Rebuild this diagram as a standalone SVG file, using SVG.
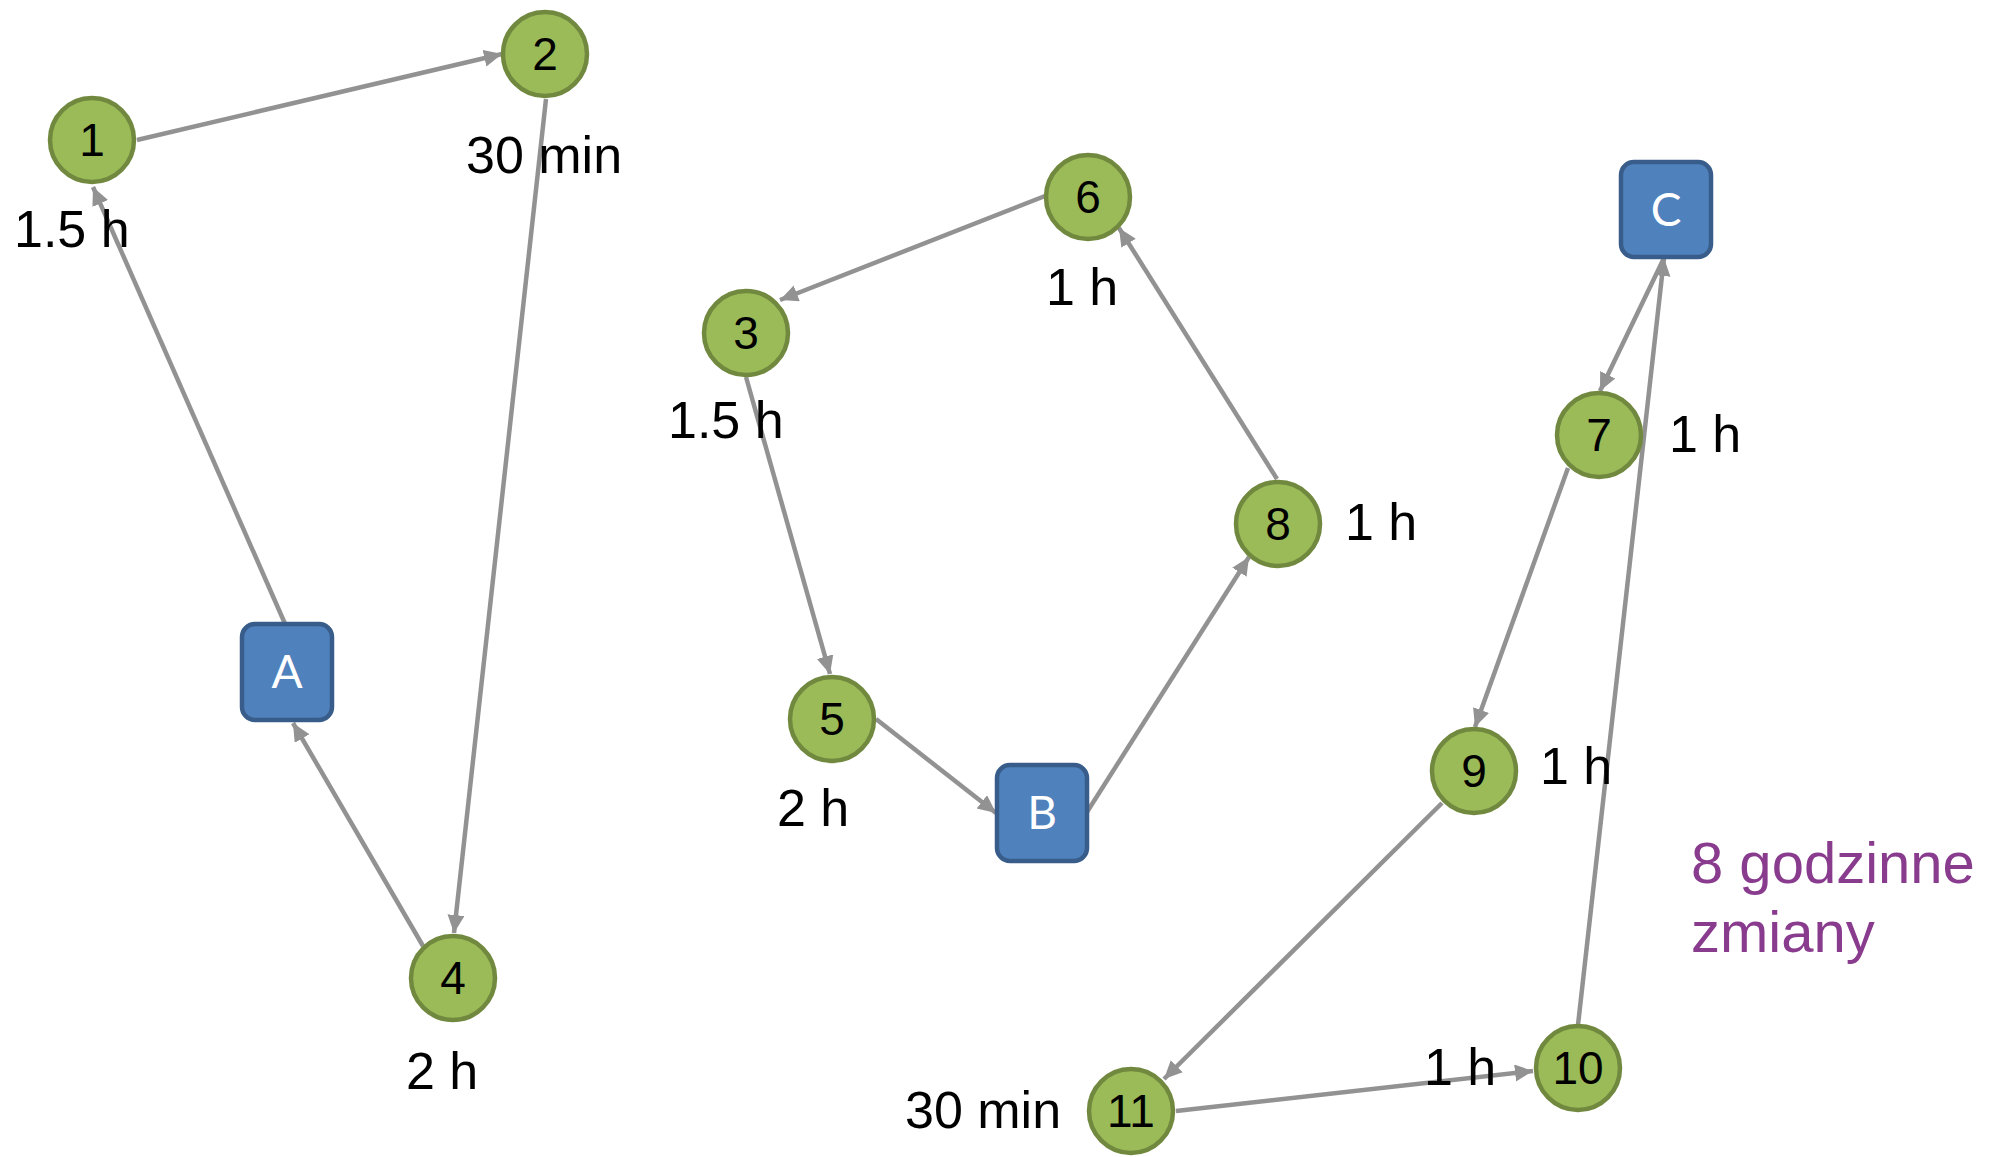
<svg xmlns="http://www.w3.org/2000/svg" width="2000" height="1157" viewBox="0 0 2000 1157">
<defs>
<marker id="arr" markerUnits="userSpaceOnUse" markerWidth="20" markerHeight="18" refX="18" refY="8.5" orient="auto">
<path d="M0,0 L18,8.5 L0,17 z" fill="#929292"/>
</marker>
<style>
.edge{stroke:#929292;stroke-width:4.5;fill:none;marker-end:url(#arr)}
.n{fill:#9BBB59;stroke:#71893F;stroke-width:4.5}
.b{fill:#4F81BD;stroke:#385D8A;stroke-width:4.5}
.nt{font-family:"Liberation Sans",Arial,sans-serif;font-size:46px;fill:#000;text-anchor:middle}
.bt{font-family:Lato,"Open Sans",sans-serif;font-size:46px;fill:#fff;text-anchor:middle}
.lab{font-family:"Liberation Sans",Arial,sans-serif;font-size:52px;fill:#000}
.note{font-family:"Liberation Sans",Arial,sans-serif;font-size:58px;fill:#893B8E}
</style>
</defs>
<rect width="2000" height="1157" fill="#fff"/>
<g id="connectors">
<line class="edge" x1="137" y1="140" x2="502" y2="54"/>
<line class="edge" x1="546" y1="99" x2="454" y2="933"/>
<line class="edge" x1="423" y1="946" x2="293" y2="723"/>
<line class="edge" x1="286" y1="626" x2="93" y2="187"/>
<line class="edge" x1="1045" y1="196" x2="780" y2="300"/>
<line class="edge" x1="1277" y1="479" x2="1119" y2="228"/>
<line class="edge" x1="746" y1="377" x2="830" y2="674"/>
<line class="edge" x1="876" y1="719" x2="996" y2="813"/>
<line class="edge" x1="1087" y1="812" x2="1249" y2="557"/>
<line class="edge" x1="1664" y1="258" x2="1600" y2="391"/>
<line class="edge" x1="1578" y1="1025" x2="1664" y2="258"/>
<line class="edge" x1="1568" y1="468" x2="1475" y2="727"/>
<line class="edge" x1="1442" y1="803" x2="1164" y2="1079"/>
<line class="edge" x1="1176" y1="1111" x2="1533" y2="1071"/>
</g>
<g id="node1"><circle class="n" cx="92" cy="140" r="42"/><text class="nt" x="92" y="156">1</text></g>
<g id="node2"><circle class="n" cx="545" cy="54" r="42"/><text class="nt" x="545" y="70">2</text></g>
<g id="node3"><circle class="n" cx="746" cy="333" r="42"/><text class="nt" x="746" y="349">3</text></g>
<g id="node4"><circle class="n" cx="453" cy="978" r="42"/><text class="nt" x="453" y="994">4</text></g>
<g id="node5"><circle class="n" cx="832" cy="719" r="42"/><text class="nt" x="832" y="735">5</text></g>
<g id="node6"><circle class="n" cx="1088" cy="197" r="42"/><text class="nt" x="1088" y="213">6</text></g>
<g id="node7"><circle class="n" cx="1599" cy="435" r="42"/><text class="nt" x="1599" y="451">7</text></g>
<g id="node8"><circle class="n" cx="1278" cy="524" r="42"/><text class="nt" x="1278" y="540">8</text></g>
<g id="node9"><circle class="n" cx="1474" cy="771" r="42"/><text class="nt" x="1474" y="787">9</text></g>
<g id="node10"><circle class="n" cx="1578" cy="1068" r="42"/><text class="nt" x="1578" y="1084">10</text></g>
<g id="node11"><circle class="n" cx="1131" cy="1111" r="42"/><text class="nt" x="1131" y="1127">11</text></g>
<g id="nodeA"><rect class="b" x="242" y="624" width="90" height="96" rx="13"/><text class="bt" x="287" y="688">A</text></g>
<g id="nodeB"><rect class="b" x="997" y="765" width="90" height="96" rx="13"/><text class="bt" x="1042" y="829">B</text></g>
<g id="nodeC"><rect class="b" x="1621" y="162" width="90" height="95" rx="13"/><text class="bt" x="1666" y="226">C</text></g>
<g id="labels">
<text class="lab" x="14" y="247">1.5 h</text>
<text class="lab" x="466" y="173">30 min</text>
<text class="lab" x="668" y="438">1.5 h</text>
<text class="lab" x="1046" y="305">1 h</text>
<text class="lab" x="1345" y="540">1 h</text>
<text class="lab" x="777" y="826">2 h</text>
<text class="lab" x="406" y="1089">2 h</text>
<text class="lab" x="905" y="1128">30 min</text>
<text class="lab" x="1669" y="452">1 h</text>
<text class="lab" x="1540" y="784">1 h</text>
<text class="lab" x="1424" y="1085">1 h</text>
<text class="note" x="1691" y="883">8 godzinne</text>
<text class="note" x="1691" y="952">zmiany</text>
</g>
</svg>
